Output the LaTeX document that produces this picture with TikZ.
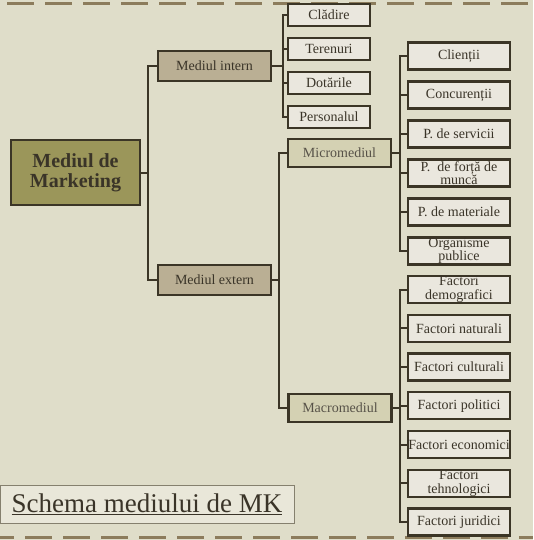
\documentclass[tikz,border=0pt]{standalone}
\usepackage{fontspec}
\setmainfont{Liberation Serif}
\usepackage{tikz}

\definecolor{fundal}{HTML}{DFDDC9}
\definecolor{contur}{HTML}{3B3526}
\definecolor{maslina}{HTML}{9B965A}
\definecolor{bej}{HTML}{BAAF94}
\definecolor{bejdeschis}{HTML}{D4D1B3}
\definecolor{frunza}{HTML}{EAE7DE}
\definecolor{linie}{HTML}{8C7C5C}
\definecolor{scris}{HTML}{3A3428}
\definecolor{chenar}{HTML}{85806E}

\begin{document}
\begin{tikzpicture}[x=1pt,y=-1pt,
    cutie/.style={draw=contur,line width=2.4pt,text=scris,inner sep=0pt,align=center,
        font=\fontsize{14}{13.3}\selectfont},
    frunza/.style={cutie,fill=frunza,minimum width=102pt,minimum height=27pt},
    intern/.style={cutie,fill=frunza,minimum width=82pt,minimum height=22pt},
    nivel/.style={cutie,fill=bej,minimum width=113pt,minimum height=30pt},
    sub/.style={cutie,fill=bejdeschis,text=scris!85!white,minimum width=103pt,minimum height=28pt},
    legatura/.style={draw=contur,line width=2pt}]
    \useasboundingbox[fill=fundal] (0,0) rectangle (533,540);
    \draw[linie,line width=3pt,dash pattern=on 27pt off 11pt] (7,3.5) -- (528,3.5);
    \draw[linie,line width=3pt,dash pattern=on 27pt off 11pt,dash phase=13pt] (0,537.5) -- (533,537.5);

    \node[cutie,fill=maslina,minimum width=129pt,minimum height=65pt,
        font=\fontsize{20}{20}\selectfont\bfseries] (mediu) at (75.5,172.5) {Mediul de\\Marketing};
    \node[nivel] (intern) at (214.5,66) {Mediul intern};
    \node[nivel] (extern) at (214.5,280) {Mediul extern};
    \node[sub] (micro) at (339.5,153) {Micromediul};
    \node[sub] (macro) at (340,408) {Macromediul};

    \foreach \n/\y/\t in {cladire/15/{Clădire},terenuri/49/{Terenuri},
        dotari/83/{Dotările},personal/117/{Personalul}}
        \node[intern] (\n) at (329,\y) {\t};
    \foreach \n/\y/\t in {clienti/56/{Clienții},concurenti/95/{Concurenții},
        servicii/134/{P. de servicii},munca/173/{P.~ de forță de\\muncă},
        materiale/212/{P. de materiale},publice/251/{Organisme\\publice}}
        \node[frunza] (\n) at (459,\y) {\t};
    \foreach \n/\y/\t in {demo/289.5/{Factori\\demografici},naturali/328.25/{Factori naturali},
        culturali/367/{Factori culturali},politici/405.75/{Factori politici},
        economici/444.5/{Factori economici},tehno/483.25/{Factori\\tehnologici},
        juridici/522/{Factori juridici}}
        \node[frunza] (\n) at (459,\y) {\t};

    \draw[legatura] (mediu.east) -- ++(7,0) |- (intern.west);
    \draw[legatura] (mediu.east) -- ++(7,0) |- (extern.west);
    \foreach \n in {cladire,terenuri,dotari,personal}
        \draw[legatura] (intern.east) -- ++(11,0) |- (\n.west);
    \draw[legatura] (extern.east) -- ++(7,0) |- (micro.west);
    \draw[legatura] (extern.east) -- ++(7,0) |- (macro.west);
    \foreach \n in {clienti,concurenti,servicii,munca,materiale,publice}
        \draw[legatura] (micro.east) -- ++(8,0) |- (\n.west);
    \foreach \n in {demo,naturali,culturali,politici,economici,tehno,juridici}
        \draw[legatura] (macro.east) -- ++(7,0) |- (\n.west);

    \node[draw=chenar,line width=0.8pt,fill=fundal!70!white,minimum width=294pt,minimum height=38pt,
        inner sep=0pt,text=scris,font=\fontsize{27}{27}\selectfont] (titlu) at (147,504)
        {\underline{Schema mediului de MK}};
\end{tikzpicture}
\end{document}
